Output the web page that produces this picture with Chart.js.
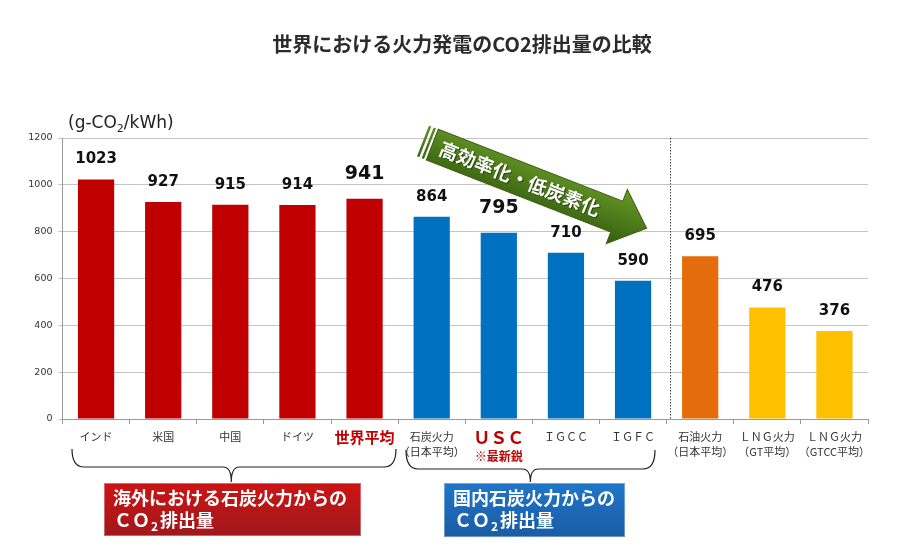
<!DOCTYPE html>
<html>
<head>
<meta charset="utf-8">
<script src="https://cdn.jsdelivr.net/npm/chart.js@4.4.0/dist/chart.umd.min.js"></script>
<style>
html,body{margin:0;padding:0;background:#fff;}
#wrap{width:924px;height:549px;position:relative;}
</style>
</head>
<body>
<div id="wrap"><canvas id="c" width="924" height="549"></canvas></div>
<script>
// ---- data ----
const categories = [
  ['インド'], ['米国'], ['中国'], ['ドイツ'], ['世界平均'],
  ['石炭火力', '（日本平均）'], ['ＵＳＣ'], ['ＩＧＣＣ'], ['ＩＧＦＣ'],
  ['石油火力', '（日本平均）'], ['ＬＮＧ火力', '（GT平均）'], ['ＬＮＧ火力', '（GTCC平均）']
];
const emissions = [1023, 927, 915, 914, 941, 864, 795, 710, 590, 695, 476, 376];
const barColors = ['#C00000','#C00000','#C00000','#C00000','#C00000',
                   '#0070C0','#0070C0','#0070C0','#0070C0',
                   '#E46C0A','#FFC000','#FFC000'];
const emphasized = [4, 6];
const yMin = 0, yMax = 1200, yStep = 200;
const chartTitle = '世界における火力発電のCO2排出量の比較';
const arrowText = '高効率化・低炭素化';
const groupBoxes = [
  { line1: '海外における石炭火力からの', from: 0, to: 4, color: ['#cc1414', '#a0181c'] },
  { line1: '国内石炭火力からの', from: 5, to: 8, color: ['#1f76c9', '#1b5ca4'] }
];
const uscNote = '※最新鋭';

const JP = '"Noto Sans CJK JP", "DejaVu Sans", sans-serif';
const DV = '"DejaVu Sans", sans-serif';

function subText(ctx, parts, x, y) {
  let cx = x;
  for (const p of parts) {
    ctx.font = p.font;
    ctx.fillText(p.t, cx, y + (p.dy || 0));
    cx += ctx.measureText(p.t).width + (p.gap || 0);
  }
}

const overlay = {
  id: 'overlay',
  afterDatasetsDraw(chart) {
    const ctx = chart.ctx;
    const meta = chart.getDatasetMeta(0);
    const area = chart.chartArea;
    ctx.save();
    ctx.fillStyle = '#111';
    ctx.textAlign = 'center';
    ctx.textBaseline = 'middle';
    meta.data.forEach((bar, i) => {
      const big = emphasized.includes(i);
      ctx.font = 'bold ' + (big ? 19 : 15) + 'px ' + DV;
      ctx.fillText(String(emissions[i]), bar.x, bar.y - (big ? 25 : 20));
    });
    const xs = chart.scales.x;
    const sepX = (xs.getPixelForValue(8) + xs.getPixelForValue(9)) / 2 + 3;
    ctx.strokeStyle = '#444';
    ctx.lineWidth = 1;
    ctx.setLineDash([1.5, 1.5]);
    ctx.beginPath();
    ctx.moveTo(Math.round(sepX) + 0.5, area.top);
    ctx.lineTo(Math.round(sepX) + 0.5, area.bottom);
    ctx.stroke();
    ctx.setLineDash([]);
    ctx.restore();
  },
  afterDraw(chart) {
    const ctx = chart.ctx;
    const xs = chart.scales.x;
    ctx.save();
    // title
    ctx.fillStyle = '#2b2b2b';
    ctx.textAlign = 'center';
    ctx.textBaseline = 'middle';
    ctx.font = 'bold 20px ' + JP;
    ctx.fillText(chartTitle, 462, 44);

    // unit label
    ctx.textAlign = 'left';
    ctx.fillStyle = '#222';
    subText(ctx, [
      { t: '(g-CO', font: '17px ' + DV },
      { t: '2', font: '11px ' + DV, dy: 5 },
      { t: '/kWh)', font: '17px ' + DV }
    ], 68, 124);

    // USC note
    ctx.textAlign = 'center';
    ctx.fillStyle = '#C00000';
    ctx.font = 'bold 12px ' + JP;
    ctx.fillText(uscNote, xs.getPixelForValue(6), 456);

    // arrow
    ctx.save();
    ctx.translate(423, 141);
    ctx.rotate(21.3 * Math.PI / 180);
    const L = 240, hb = 16.5, hh = 29, hl = 32, s0 = 10;
    const g = ctx.createLinearGradient(0, -hh, 0, hh);
    g.addColorStop(0, '#6a9a2a');
    g.addColorStop(0.5, '#4d7c1a');
    g.addColorStop(1, '#355c0e');
    ctx.fillStyle = g;
    ctx.strokeStyle = '#3a5f12';
    ctx.lineWidth = 1;
    ctx.beginPath();
    ctx.moveTo(s0, -hb);
    ctx.lineTo(L - hl, -hb);
    ctx.lineTo(L - hl, -hh);
    ctx.lineTo(L, 0);
    ctx.lineTo(L - hl, hh);
    ctx.lineTo(L - hl, hb);
    ctx.lineTo(s0, hb);
    ctx.closePath();
    ctx.fill();
    ctx.stroke();
    ctx.fillRect(0, -hb, 2.5, hb * 2);
    ctx.fillRect(5, -hb, 2.5, hb * 2);
    ctx.fillStyle = '#fff';
    ctx.textAlign = 'center';
    ctx.textBaseline = 'middle';
    ctx.font = 'bold 19px ' + JP;
    ctx.shadowColor = 'rgba(0,0,0,0.45)';
    ctx.shadowOffsetX = 1;
    ctx.shadowOffsetY = 1;
    ctx.shadowBlur = 1;
    ctx.fillText(arrowText, 104, 0);
    ctx.restore();

    // braces
    const braces = [
      { x1: 72, x2: 396, c: (xs.getPixelForValue(0) + xs.getPixelForValue(4)) / 2 + 1, ytop: 449, ymid: 467, ytip: 482 },
      { x1: 406, x2: 655, c: (xs.getPixelForValue(5) + xs.getPixelForValue(8)) / 2 - 2, ytop: 450, ymid: 469, ytip: 482 }
    ];
    ctx.strokeStyle = '#222';
    ctx.lineWidth = 1.2;
    braces.forEach(b => {
      ctx.beginPath();
      ctx.moveTo(b.x1, b.ytop);
      ctx.quadraticCurveTo(b.x1, b.ymid, b.x1 + 12, b.ymid);
      ctx.lineTo(b.c - 8, b.ymid);
      ctx.quadraticCurveTo(b.c, b.ymid, b.c, b.ytip);
      ctx.quadraticCurveTo(b.c, b.ymid, b.c + 8, b.ymid);
      ctx.lineTo(b.x2 - 12, b.ymid);
      ctx.quadraticCurveTo(b.x2, b.ymid, b.x2, b.ytop);
      ctx.stroke();
    });

    // boxes
    const boxes = [
      { x: 104, y: 483, w: 257, h: 53 },
      { x: 444, y: 483, w: 181, h: 54 }
    ];
    boxes.forEach((bx, i) => {
      const info = groupBoxes[i];
      const gg = ctx.createLinearGradient(0, bx.y, 0, bx.y + bx.h);
      gg.addColorStop(0, info.color[0]);
      gg.addColorStop(1, info.color[1]);
      ctx.fillStyle = gg;
      ctx.fillRect(bx.x, bx.y, bx.w, bx.h);
      ctx.strokeStyle = 'rgba(255,255,255,0.35)';
      ctx.lineWidth = 1;
      ctx.strokeRect(bx.x + 0.5, bx.y + 0.5, bx.w - 1, bx.h - 1);
      ctx.fillStyle = '#fff';
      ctx.textAlign = 'left';
      ctx.textBaseline = 'middle';
      ctx.font = 'bold 18px ' + JP;
      ctx.fillText(info.line1, bx.x + 9, bx.y + 15);
      subText(ctx, [
        { t: 'ＣＯ', font: 'bold 18px ' + JP, gap: 1 },
        { t: '2', font: 'bold 12px ' + JP, dy: 6, gap: 2 },
        { t: '排出量', font: 'bold 18px ' + JP }
      ], bx.x + 10, bx.y + 37);
    });
    ctx.restore();
  }
};

const tickFont = (c) => {
  if (c.index === 4) return { family: JP, size: 15, weight: 'bold', lineHeight: 1.1 };
  if (c.index === 6) return { family: JP, size: 17, weight: 'bold', lineHeight: 1.0 };
  return { family: JP, size: 11, lineHeight: 1.35 };
};

new Chart(document.getElementById('c'), {
  type: 'bar',
  data: {
    labels: categories,
    datasets: [{
      data: emissions,
      backgroundColor: barColors,
      borderWidth: 0,
      barPercentage: 0.54,
      categoryPercentage: 1.0
    }]
  },
  options: {
    responsive: false,
    animation: false,
    layout: { padding: { top: 138, right: 56, left: 0, bottom: 0 } },
    plugins: { legend: { display: false }, tooltip: { enabled: false }, title: { display: false } },
    scales: {
      x: {
        afterFit(scale) { scale.height = 130; },
        grid: { offset: true, drawOnChartArea: false, drawTicks: true, tickLength: 5, color: '#999' },
        border: { display: true, color: '#999' },
        ticks: {
          autoSkip: false, maxRotation: 0, minRotation: 0, padding: 5.5,
          font: tickFont,
          color: (c) => (emphasized.includes(c.index) ? '#C00000' : '#333')
        }
      },
      y: {
        min: yMin, max: yMax,
        afterFit(scale) { scale.width = 62.5; },
        grid: { color: '#c4c4c4', tickLength: 4, drawTicks: true },
        border: { display: true, color: '#999' },
        ticks: {
          stepSize: yStep, font: { family: DV, size: 9.5 }, color: '#333', padding: 6,
          callback: (v) => String(v)
        }
      }
    }
  },
  plugins: [overlay]
});
</script>
</body>
</html>
